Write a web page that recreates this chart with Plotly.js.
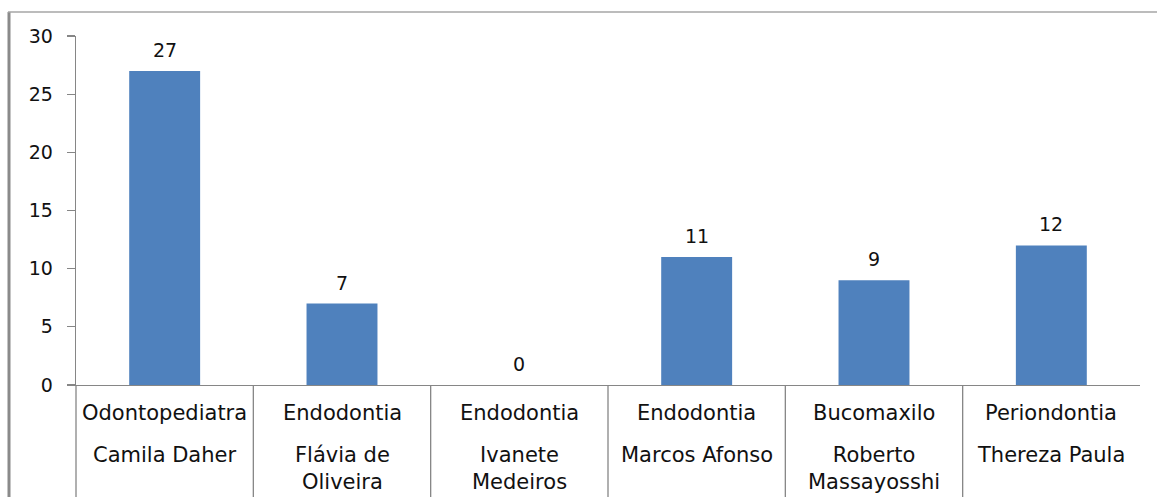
<!DOCTYPE html>
<html>
<head>
<meta charset="utf-8">
<script src="https://cdn.plot.ly/plotly-3.0.1.min.js"></script>
<style>html,body{margin:0;padding:0;background:#fff;}#chart{width:1157px;height:497px;}</style>
</head>
<body>
<div id="chart"></div>
<script>
// ---- data ----
var specialties = ["Odontopediatra", "Endodontia", "Endodontia", "Endodontia", "Bucomaxilo", "Periondontia"];
var names = ["Camila Daher", "Flávia de<br>Oliveira", "Ivanete<br>Medeiros", "Marcos Afonso", "Roberto<br>Massayosshi", "Thereza Paula"];
var values = [27, 7, 0, 11, 9, 12];
var yTicks = [0, 5, 10, 15, 20, 25, 30];

// ---- layout geometry (pixels) ----
var W = 1157, H = 497, L = 76, R = 17, T = 36, B = 112;
var PW = W - L - R, PH = H - T - B;
function px(xp) { return (xp - L) / PW; }
function py(yp) { return (H - B - yp) / PH; }

var cats = values.map(function (v, i) { return i; });
var FONT = "DejaVu Sans, Verdana, sans-serif";

var annotations = [];
values.forEach(function (v, i) {
  annotations.push({
    x: i, y: v, xref: "x", yref: "y", text: String(v), showarrow: false,
    yanchor: "middle", yshift: 21, font: {family: FONT, size: 19, color: "#111"}
  });
  annotations.push({
    x: i, y: py(413), xref: "x", yref: "paper", text: specialties[i], showarrow: false,
    yanchor: "middle", font: {family: FONT, size: 21, color: "#111"}
  });
  annotations.push({
    x: i, y: py(441), xref: "x", yref: "paper", text: names[i], showarrow: false,
    yanchor: "top", font: {family: FONT, size: 21, color: "#111"}
  });
});

var shapes = [];
for (var i = 0; i < values.length; i++) {
  shapes.push({
    type: "line", xref: "paper", yref: "paper",
    x0: i / values.length, x1: i / values.length, y0: 0, y1: py(H),
    line: {color: "#868686", width: 1.3}
  });
}
// chart border (left + top)
shapes.push({type: "line", xref: "paper", yref: "paper", x0: px(9), x1: px(9), y0: py(12), y1: py(H + 2), line: {color: "#8a8a8a", width: 3}});
shapes.push({type: "line", xref: "paper", yref: "paper", x0: px(8), x1: px(W + 2), y0: py(12), y1: py(12), line: {color: "#a6a6a6", width: 1.5}});

var trace = {
  type: "bar", x: cats, y: values,
  marker: {color: "#4F81BD"}, hoverinfo: "skip"
};

var layout = {
  width: W, height: H,
  margin: {l: L, r: R, t: T, b: B, pad: 0},
  paper_bgcolor: "#fff", plot_bgcolor: "#fff",
  showlegend: false, bargap: 0.6,
  xaxis: {
    type: "linear", range: [-0.5, values.length - 0.5], showticklabels: false,
    showgrid: false, zeroline: false, showline: true, linecolor: "#868686", linewidth: 1.3,
    ticks: "", fixedrange: true
  },
  yaxis: {
    range: [0, 30], tickvals: yTicks, ticktext: yTicks.map(String),
    showgrid: false, zeroline: false, showline: true, linecolor: "#868686", linewidth: 1.3,
    ticks: "outside", ticklen: 8, tickcolor: "#868686", tickwidth: 1.3,
    ticklabelstandoff: 10,
    tickfont: {family: FONT, size: 19, color: "#111"}, fixedrange: true
  },
  annotations: annotations,
  shapes: shapes
};

Plotly.newPlot("chart", [trace], layout, {displayModeBar: false, staticPlot: true});
</script>
</body>
</html>
